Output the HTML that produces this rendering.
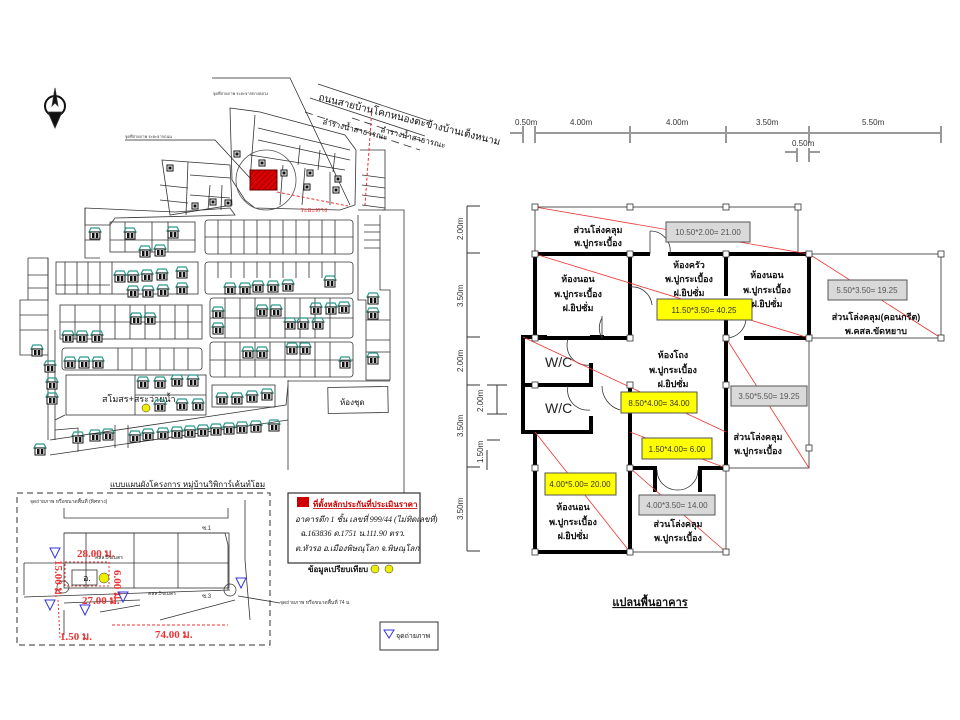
<!DOCTYPE html>
<html><head><meta charset="utf-8"><style>
body{margin:0;background:#fff;width:960px;height:720px;overflow:hidden}
svg{display:block}
.t{font-family:"Liberation Sans","Noto Sans CJK SC",sans-serif}
</style></head><body>
<svg width="960" height="720" viewBox="0 0 960 720" xmlns="http://www.w3.org/2000/svg" class="t">
<defs>
<g id="h"><path d="M-6,-1 L-4,-5 L4,-5 L6,-1 Z" fill="none" stroke="#2a9a8a" stroke-width="1.2"/><rect x="-5" y="-1" width="10" height="7" fill="#fff" stroke="#111" stroke-width="1"/><rect x="-3" y="0" width="2.5" height="5" fill="#111"/><rect x="0.8" y="0" width="2.5" height="5" fill="#111"/></g>
<g id="hs"><rect x="-3" y="-3" width="6" height="6" fill="#fff" stroke="#111" stroke-width="1"/><rect x="-1.5" y="-1.5" width="3" height="3" fill="#111"/></g>
<pattern id="hatch" width="4" height="4" patternUnits="userSpaceOnUse" patternTransform="rotate(45)"><rect width="4" height="4" fill="#d00"/><line x1="0" y1="0" x2="0" y2="4" stroke="#600" stroke-width="1"/></pattern>
</defs>

<!-- ============ LEFT MAP ============ -->
<g stroke="#333" stroke-width="0.8" fill="none">
<!-- north arrow -->
<circle cx="55" cy="106" r="10" stroke="#111" stroke-width="2"/>
<path d="M55,88 L58,106 L55,103 L52,106Z" fill="#111"/>
<path d="M48,112 L55,128 L62,112Z" fill="#111"/>
<!-- top road -->
<path d="M318,84 L432,122"/><path d="M310,98 L425,136"/>
<path d="M305,112 L420,150" stroke-dasharray="8,5"/>
<path d="M352,118 L425,142" stroke-dasharray="8,5"/>
<!-- top cluster -->
<path d="M230,108 L260,112 L345,135 L356,150 L355,205 L340,210 L255,208 L245,200 L232,180 Z"/>
<path d="M255,115 L250,180"/><path d="M258,128 L350,150"/><path d="M258,140 L350,160"/><path d="M300,145 L298,165"/><path d="M320,150 L318,170"/><path d="M335,153 L333,172"/>
<path d="M250,155 L345,170"/><path d="M283,165 L280,205"/><path d="M305,168 L302,205"/><path d="M330,172 L330,205"/>
<path d="M360,150 L385,150 L385,210 L358,210"/>
<path d="M362,175 L385,178"/><path d="M362,185 L385,188"/><path d="M362,195 L385,198"/><path d="M362,205 L385,208"/>
<path d="M162,160 L230,165 L232,205 L170,215 Z"/>
<path d="M188,162 L186,215"/><path d="M190,175 L230,178"/><path d="M190,195 L230,198"/><path d="M210,185 L208,210"/><path d="M222,185 L221,210"/>
<path d="M160,185 L188,188"/><path d="M160,200 L188,203"/>
<path d="M85,208 L175,212 L230,208 L235,215 L115,218 L110,225 L85,225 Z"/>
<path d="M85,208 L85,258 L100,258"/>
<path d="M85,240 L100,240"/>
<!-- left strip lots -->
<path d="M28,258 L48,258 L48,300 L20,300 L20,355 L48,355"/>
<path d="M28,258 L28,300"/><path d="M28,275 L48,275"/><path d="M28,288 L48,288"/><path d="M20,315 L48,315"/><path d="M20,330 L48,330"/>
<path d="M48,258 L48,440"/><path d="M55,330 L55,440"/>
<!-- block A -->
<rect x="110" y="222" width="85" height="30"/><path d="M125,222 L125,252 M152,222 L152,252 M168,222 L168,252 M110,240 L195,240"/>
<!-- block B -->
<rect x="56" y="262" width="142" height="32"/><path d="M65,262 L65,294 M77,262 L77,294 M88,262 L88,294 M100,262 L100,294 M112,262 L112,294 M56,285 L110,285"/>
<!-- block C -->
<rect x="60" y="305" width="142" height="34"/><path d="M75,305 L75,339 M100,305 L100,339 M115,305 L115,339 M130,305 L130,339 M145,305 L145,339 M160,305 L160,339 M175,305 L175,339 M188,305 L188,339 M60,322 L202,322"/>
<!-- block D -->
<rect x="62" y="348" width="140" height="22" rx="3"/><path d="M118,348 L118,370 M132,348 L132,370 M146,348 L146,370 M160,348 L160,370 M174,348 L174,370 M188,348 L188,370"/>
<!-- block E -->
<rect x="66" y="375" width="140" height="40"/><path d="M135,375 L135,415 M135,395 L206,395"/>
<!-- right grids -->
<rect x="205" y="220" width="148" height="34" rx="3"/>
<path d="M205,237 L353,237"/>
<path d="M218,220V254M231,220V254M244,220V254M257,220V254M270,220V254M283,220V254M296,220V254M309,220V254M322,220V254M335,220V254"/>
<rect x="205" y="262" width="148" height="32" rx="3"/>
<path d="M218,262V278M231,262V278M244,262V278M257,262V278M270,262V278M283,262V278M296,262V278M309,262V278M322,262V278M335,262V278"/>
<rect x="210" y="298" width="143" height="40" rx="3"/><path d="M210,318 L353,318 M225,298V338M240,298V338M255,298V338M270,298V338M285,298V338M300,298V338M315,298V338M330,298V338"/>
<rect x="210" y="342" width="143" height="35" rx="3"/><path d="M210,360 L353,360 M225,342V377M240,342V377M255,342V377M270,342V377M285,342V377M300,342V377M315,342V377M330,342V377"/>
<rect x="212" y="385" width="63" height="22"/>
<!-- right strip -->
<path d="M358,215 L358,300 L366,300 L366,380 L390,380 L390,290 L380,290 L380,215"/>
<path d="M366,320 L390,320 M366,340 L390,340 M366,352 L390,352"/>
<path d="M364,225 L380,225 M364,232 L380,232 M364,240 L380,240 M364,248 L380,248"/>
<path d="M382,210 L404,210 L404,470"/>
<path d="M288,380 L288,470"/>
<path d="M288,381 L390,381"/>
<rect x="328" y="387" width="60" height="26" transform="rotate(-1 358 400)"/>
<!-- bottom street -->
<path d="M50,440 L286,405 L288,385"/>
<path d="M55,420 L65,415"/>
<path d="M50,455 L288,420"/>
<path d="M55,430 L78,428 L78,452"/>
<path d="M115,425 L115,448 M128,425 L128,448"/>
</g>
<!-- red rect & circle -->
<circle cx="266" cy="180" r="30" fill="none" stroke="#555" stroke-width="0.8"/>
<rect x="250" y="170" width="27" height="20" fill="url(#hatch)" stroke="#600" stroke-width="1"/>
<path d="M277,192 L348,206" stroke="#e33" stroke-width="1" stroke-dasharray="3,2" fill="none"/>
<path d="M372,108 L365,205" stroke="#e33" stroke-width="1" stroke-dasharray="3,2" fill="none"/>
<path d="M212,78 L290,78 L350,205" stroke="#222" stroke-width="0.7" fill="none"/>
<path d="M125,140 L215,140 L250,178" stroke="#222" stroke-width="0.7" fill="none"/>
<g fill="#333" font-size="4"><text x="213" y="95">จุดที่ถ่ายภาพ ระยะจากทางหลวง</text><text x="125" y="138">จุดที่ถ่ายภาพ ระยะจากถนน</text></g>
<g font-size="10" fill="#111">
<text x="318" y="100" transform="rotate(14 318 100)">ถนนสายบ้านโคกหนองตะข้างบ้านเต็งหนาม</text>
<text x="322" y="124" font-size="8" transform="rotate(14 322 124)">ลำรางน้ำสาธารณะ</text>
<text x="380" y="132" font-size="8" transform="rotate(14 380 132)">ลำรางน้ำสาธารณะ</text>
<text x="102" y="402" font-size="9">สโมสร+สระว่ายน้ำ</text>
<text x="340" y="405" font-size="8">ห้องชุด</text>
<text x="300" y="212" font-size="7" fill="#e33">ระยะทาง</text>
</g>
<circle cx="146" cy="408" r="4" fill="#ee0" stroke="#333" stroke-width="0.5"/>
<!-- houses -->
<g>
<use href="#h" x="95" y="233"/><use href="#h" x="130" y="233"/><use href="#h" x="173" y="232"/><use href="#h" x="145" y="251"/><use href="#h" x="160" y="250"/>
<use href="#h" x="120" y="276"/><use href="#h" x="133" y="276"/><use href="#h" x="147" y="275"/><use href="#h" x="162" y="274"/><use href="#h" x="182" y="272"/>
<use href="#h" x="133" y="291"/><use href="#h" x="148" y="291"/><use href="#h" x="163" y="290"/><use href="#h" x="182" y="288"/>
<use href="#h" x="136" y="318"/><use href="#h" x="150" y="318"/>
<use href="#h" x="68" y="336"/><use href="#h" x="82" y="336"/><use href="#h" x="97" y="336"/>
<use href="#h" x="70" y="362"/><use href="#h" x="84" y="362"/><use href="#h" x="98" y="362"/>
<use href="#h" x="143" y="382"/><use href="#h" x="160" y="382"/><use href="#h" x="177" y="380"/><use href="#h" x="193" y="380"/>
<use href="#h" x="160" y="405"/><use href="#h" x="182" y="404"/><use href="#h" x="198" y="404"/>
<use href="#h" x="37" y="350"/><use href="#h" x="50" y="366"/><use href="#h" x="52" y="383"/><use href="#h" x="52" y="398"/>
<use href="#h" x="230" y="288"/><use href="#h" x="245" y="288"/><use href="#h" x="258" y="286"/><use href="#h" x="273" y="286"/><use href="#h" x="288" y="285"/><use href="#h" x="330" y="281"/>
<use href="#h" x="218" y="312"/><use href="#h" x="262" y="310"/><use href="#h" x="276" y="310"/><use href="#h" x="316" y="308"/><use href="#h" x="331" y="308"/><use href="#h" x="344" y="307"/>
<use href="#h" x="218" y="328"/><use href="#h" x="290" y="323"/><use href="#h" x="303" y="323"/><use href="#h" x="318" y="323"/>
<use href="#h" x="248" y="352"/><use href="#h" x="262" y="352"/><use href="#h" x="292" y="348"/><use href="#h" x="305" y="348"/><use href="#h" x="345" y="362"/>
<use href="#h" x="222" y="398"/><use href="#h" x="237" y="398"/><use href="#h" x="252" y="396"/><use href="#h" x="267" y="394"/>
<use href="#h" x="373" y="298"/><use href="#h" x="373" y="313"/><use href="#h" x="373" y="358"/>
<use href="#h" x="78" y="437"/><use href="#h" x="95" y="435"/><use href="#h" x="108" y="434"/><use href="#h" x="135" y="436"/><use href="#h" x="148" y="434"/><use href="#h" x="163" y="433"/><use href="#h" x="177" y="432"/><use href="#h" x="190" y="431"/><use href="#h" x="203" y="430"/><use href="#h" x="216" y="429"/><use href="#h" x="229" y="428"/><use href="#h" x="242" y="427"/><use href="#h" x="256" y="426"/><use href="#h" x="274" y="425"/><use href="#h" x="40" y="449"/>
<use href="#hs" x="237" y="154"/><use href="#hs" x="170" y="168"/><use href="#hs" x="195" y="206"/><use href="#hs" x="213" y="202"/><use href="#hs" x="228" y="203"/><use href="#hs" x="262" y="163"/><use href="#hs" x="284" y="173"/><use href="#hs" x="310" y="173"/><use href="#hs" x="338" y="179"/><use href="#hs" x="307" y="187"/><use href="#hs" x="336" y="190"/>
</g>
<text x="110" y="487" font-size="8" fill="#111" text-decoration="underline">แบบแผนผังโครงการ หมู่บ้านวิพิการ์เค้นท์โฮม</text>
<line x1="404" y1="470" x2="404" y2="493" stroke="#333" stroke-width="0.8"/>

<!-- bottom panel -->
<rect x="17" y="493" width="253" height="152" fill="none" stroke="#333" stroke-width="1" stroke-dasharray="6,4"/>
<g stroke="#333" stroke-width="0.8" fill="none">
<path d="M64,508 L64,518 L228,518 L228,508"/>
<path d="M64,533 L225,533 L228,545 L228,590"/>
<rect x="64" y="533" width="165" height="55"/>
<path d="M86,533V588 M134,533V588 M178,533V588 M24,563H229 M24,563V595"/>
<path d="M24,597 L230,590 M64,603 L140,600 M100,612 L140,605"/>
<path d="M64,610 L64,635 M160,620 L235,600"/>
<path d="M245,500 L245,560 L250,620"/>
<path d="M238,596 L280,603"/>
<rect x="72" y="570" width="25" height="15"/>
</g>
<circle cx="63" cy="587" r="6" fill="none" stroke="#333" stroke-width="0.7"/>
<circle cx="230" cy="590" r="6" fill="none" stroke="#333" stroke-width="0.7"/>
<rect x="65" y="562" width="44" height="24" fill="none" stroke="#e33" stroke-dasharray="2,2"/>
<g fill="#e33" font-size="11" font-family="Liberation Serif,serif" font-weight="bold">
<text x="77" y="557">28.00 ม.</text><text x="82" y="604">27.00 ม.</text><text x="155" y="638">74.00 ม.</text><text x="60" y="640">1.50 ม.</text>
<text x="55" y="560" transform="rotate(90 55 560)">15.00 ม.</text><text x="114" y="570" transform="rotate(90 114 570)">6.00 ม.</text>
</g>
<path d="M112,625 L228,625" stroke="#e33" stroke-dasharray="3,2"/>
<path d="M58,600 L60,638" stroke="#e33" stroke-dasharray="2,2"/>
<text x="83" y="581" font-size="9" fill="#111">อ.</text>
<circle cx="104" cy="578" r="5" fill="#ee0" stroke="#333" stroke-width="0.5"/>
<g fill="none" stroke="#33d" stroke-width="1"><path d="M50,548 l5,10 l5,-10z"/><path d="M45,600 l5,10 l5,-10z"/><path d="M80,605 l5,10 l5,-10z"/><path d="M118,592 l5,10 l5,-10z"/><path d="M236,578 l5,10 l5,-10z"/></g>
<g fill="#333" font-size="5"><text x="30" y="503">จุดถ่ายภาพ หรือขนาดพื้นที่ (ทิศทาง)</text><text x="280" y="604">จุดถ่ายภาพ หรือขนาดพื้นที่ 74 ม.</text><text x="95" y="559">คสล.5ขเมตร</text><text x="148" y="595">คสล.5ขเมตร</text><text x="202" y="530" font-size="6">ซ.1</text><text x="202" y="598" font-size="6">ซ.3</text></g>
<!-- legend -->
<rect x="288" y="493" width="132" height="70" fill="#fff" stroke="#333" stroke-width="1.2"/>
<rect x="297" y="497" width="12" height="10" fill="url(#hatch)"/>
<g font-size="8" fill="#111" font-family="Liberation Serif,'Noto Serif CJK SC',serif" font-style="italic">
<text x="313" y="507" font-weight="bold" fill="#c00" text-decoration="underline" font-style="normal">ที่ตั้งหลักประกันที่ประเมินราคา</text>
<text x="295" y="522">อาคารตึก 1 ชั้น เลขที่ 999/44 (ไม่ทิดเลขที่)</text>
<text x="300" y="536">ฉ.163836  ด.1751  น.111.90 ตรว.</text>
<text x="295" y="551">ต.หัวรอ  อ.เมืองพิษณุโลก  จ.พิษณุโลก</text>
<text x="308" y="572" font-weight="bold" font-style="normal">ข้อมูลเปรียบเทียบ</text>
</g>
<circle cx="375" cy="569" r="4" fill="#ee0" stroke="#333" stroke-width="0.5"/><circle cx="389" cy="569" r="4" fill="#ee0" stroke="#333" stroke-width="0.5"/>
<rect x="380" y="622" width="58" height="28" fill="#fff" stroke="#333" stroke-width="1"/>
<path d="M384,630 l5,8 l5,-8z" fill="none" stroke="#33d"/>
<text x="396" y="638" font-size="7" fill="#111">จุดถ่ายภาพ</text>

<!-- ============ FLOOR PLAN ============ -->
<g stroke="#333" stroke-width="1" fill="none">
<!-- top dims -->
<path d="M510,133 L522,133 M536,133 L629,133 M631,133 L725,133 M727,133 L808,133 M810,133 L940,133"/>
<path d="M523,126V143 M535,126V143 M630,126V143 M726,126V143 M809,126V143 M941,126V143"/>
<path d="M797,148V162 M809,148V162 M785,152 L796,152 M820,152 L810,152"/>
<!-- left dims -->
<path d="M467,206 L467,551"/>
<path d="M467,206H480 M467,253H480 M467,337H480 M467,385H480 M467,467H480 M467,551H480"/>
<path d="M497,385V414 M487,385H507 M487,414H507 M487,440H500 M487,450V470"/>
</g>
<g font-size="8" fill="#333">
<text x="515" y="125">0.50m</text><text x="570" y="125">4.00m</text><text x="666" y="125">4.00m</text><text x="756" y="125">3.50m</text><text x="862" y="125">5.50m</text><text x="792" y="146">0.50m</text>
<g transform="rotate(-90)"><text x="-240" y="463">2.00m</text><text x="-307" y="463">3.50m</text><text x="-372" y="463">2.00m</text><text x="-437" y="463">3.50m</text><text x="-520" y="463">3.50m</text><text x="-412" y="483">2.00m</text><text x="-463" y="483">1.50m</text></g>
</g>
<!-- thin outlines -->
<g stroke="#555" stroke-width="1" fill="none">
<path d="M535,207 L798,207 L798,254"/>
<path d="M535,207 L535,254"/>
<path d="M809,254 L941,254 L941,338 L809,338"/>
<path d="M809,338 L809,468 L726,468"/>
<path d="M630,552 L726,552 L726,468"/>
</g>
<!-- thick walls -->
<g stroke="#000" stroke-width="4" fill="none" stroke-linecap="square">
<path d="M535,254 L648,254 M670,254 L809,254"/>
<path d="M535,254 L535,338 L630,338"/>
<path d="M630,254 L630,338"/>
<path d="M726,254 L726,294 M726,310 L726,338"/>
<path d="M809,254 L809,338 L746,338"/>
<path d="M726,338 L726,468"/>
<path d="M523,337 L523,432 L591,432 L591,418"/>
<path d="M523,337 L545,337 M602,337 L592,337"/>
<path d="M523,385 L590,385 M591,365 L591,385"/>
<path d="M535,432 L535,552 L630,552"/>
<path d="M630,390 L630,552"/>
<path d="M630,468 L655,468 M700,468 L726,468"/>
<path d="M655,468 L655,490 M700,468 L700,490"/>
</g>
<!-- doors -->
<g stroke="#333" stroke-width="0.8" fill="none">
<path d="M650,231 A20,20 0 0 1 670,254"/><path d="M650,231 L650,254"/>
<path d="M630,287 A20,20 0 0 1 652,305"/>
<path d="M602,318 A20,20 0 0 0 602,338"/><path d="M602,316 L602,338"/>
<path d="M746,318 A20,20 0 0 1 726,338"/>
<path d="M568,339 A20,20 0 0 0 590,365"/>
<path d="M568,386 A20,20 0 0 0 590,410"/><path d="M602,386 A25,25 0 0 0 620,410"/>
<path d="M657,470 A20,20 0 0 0 677,490 A20,20 0 0 0 698,470"/>
</g>
<!-- red diagonals -->
<g stroke="#e33" stroke-width="0.8" fill="none">
<path d="M535,207 L809,254"/>
<path d="M535,254 L809,338"/>
<path d="M809,254 L941,338"/>
<path d="M523,337 L726,432"/>
<path d="M726,338 L809,468"/>
<path d="M630,432 L726,468"/>
<path d="M535,432 L630,552"/>
<path d="M630,468 L726,552"/>
</g>
<!-- nodes -->
<g fill="#fff" stroke="#333" stroke-width="0.8">
<rect x="532" y="204" width="6" height="6"/><rect x="627" y="204" width="6" height="6"/><rect x="723" y="204" width="6" height="6"/><rect x="795" y="204" width="6" height="6"/>
<rect x="532" y="251" width="6" height="6"/><rect x="627" y="251" width="6" height="6"/><rect x="723" y="251" width="6" height="6"/><rect x="806" y="251" width="6" height="6"/><rect x="938" y="251" width="6" height="6"/>
<rect x="532" y="335" width="6" height="6"/><rect x="627" y="335" width="6" height="6"/><rect x="723" y="335" width="6" height="6"/><rect x="806" y="335" width="6" height="6"/><rect x="938" y="335" width="6" height="6"/>
<rect x="532" y="382" width="6" height="6"/><rect x="627" y="382" width="6" height="6"/><rect x="723" y="382" width="6" height="6"/>
<rect x="532" y="465" width="6" height="6"/><rect x="627" y="465" width="6" height="6"/><rect x="723" y="465" width="6" height="6"/><rect x="806" y="445" width="6" height="6"/>
<rect x="532" y="549" width="6" height="6"/><rect x="627" y="549" width="6" height="6"/><rect x="723" y="549" width="6" height="6"/>
</g>
<!-- area labels -->
<g font-size="8">
<rect x="666" y="222" width="84" height="20" fill="#d9d9d9" stroke="#555"/><text x="708" y="235" text-anchor="middle" fill="#555">10.50*2.00= 21.00</text>
<rect x="657" y="299" width="95" height="21" fill="#ff0" stroke="#555"/><text x="704" y="313" text-anchor="middle" fill="#333">11.50*3.50= 40.25</text>
<rect x="828" y="280" width="79" height="20" fill="#d9d9d9" stroke="#555"/><text x="867" y="293" text-anchor="middle" fill="#555">5.50*3.50= 19.25</text>
<rect x="621" y="392" width="76" height="21" fill="#ff0" stroke="#555"/><text x="659" y="406" text-anchor="middle" fill="#333">8.50*4.00= 34.00</text>
<rect x="731" y="386" width="76" height="20" fill="#d9d9d9" stroke="#555"/><text x="769" y="399" text-anchor="middle" fill="#555">3.50*5.50= 19.25</text>
<rect x="642" y="438" width="70" height="21" fill="#ff0" stroke="#555"/><text x="677" y="452" text-anchor="middle" fill="#333">1.50*4.00= 6.00</text>
<rect x="545" y="473" width="71" height="22" fill="#ff0" stroke="#555"/><text x="580" y="487" text-anchor="middle" fill="#333">4.00*5.00= 20.00</text>
<rect x="639" y="495" width="76" height="20" fill="#d9d9d9" stroke="#555"/><text x="677" y="508" text-anchor="middle" fill="#555">4.00*3.50= 14.00</text>
</g>
<g font-size="9" fill="#111" text-anchor="middle" font-weight="bold">
<text x="598" y="233">ส่วนโล่งคลุม</text><text x="598" y="246">พ.ปูกระเบื้อง</text>
<text x="578" y="282">ห้องนอน</text><text x="578" y="297">พ.ปูกระเบื้อง</text><text x="578" y="311">ฝ.ยิปซั่ม</text>
<text x="689" y="268">ห้องครัว</text><text x="689" y="282">พ.ปูกระเบื้อง</text><text x="689" y="296">ฝ.ยิปซั่ม</text>
<text x="767" y="278">ห้องนอน</text><text x="767" y="293">พ.ปูกระเบื้อง</text><text x="767" y="307">ฝ.ยิปซั่ม</text>
<text x="876" y="320">ส่วนโล่งคลุม(คอนกรีต)</text><text x="876" y="334">พ.คสล.ขัดหยาบ</text>
<text x="673" y="358">ห้องโถง</text><text x="673" y="373">พ.ปูกระเบื้อง</text><text x="673" y="387">ฝ.ยิปซั่ม</text>
<text x="758" y="440">ส่วนโล่งคลุม</text><text x="758" y="454">พ.ปูกระเบื้อง</text>
<text x="573" y="510">ห้องนอน</text><text x="573" y="525">พ.ปูกระเบื้อง</text><text x="573" y="539">ฝ.ยิปซั่ม</text>
<text x="678" y="527">ส่วนโล่งคลุม</text><text x="678" y="541">พ.ปูกระเบื้อง</text>
</g>
<g font-size="14" fill="#222"><text x="545" y="367">W/C</text><text x="545" y="413">W/C</text></g>
<text x="650" y="606" font-size="11" font-weight="bold" fill="#111" text-anchor="middle" text-decoration="underline">แปลนพื้นอาคาร</text>
</svg>
</body></html>
